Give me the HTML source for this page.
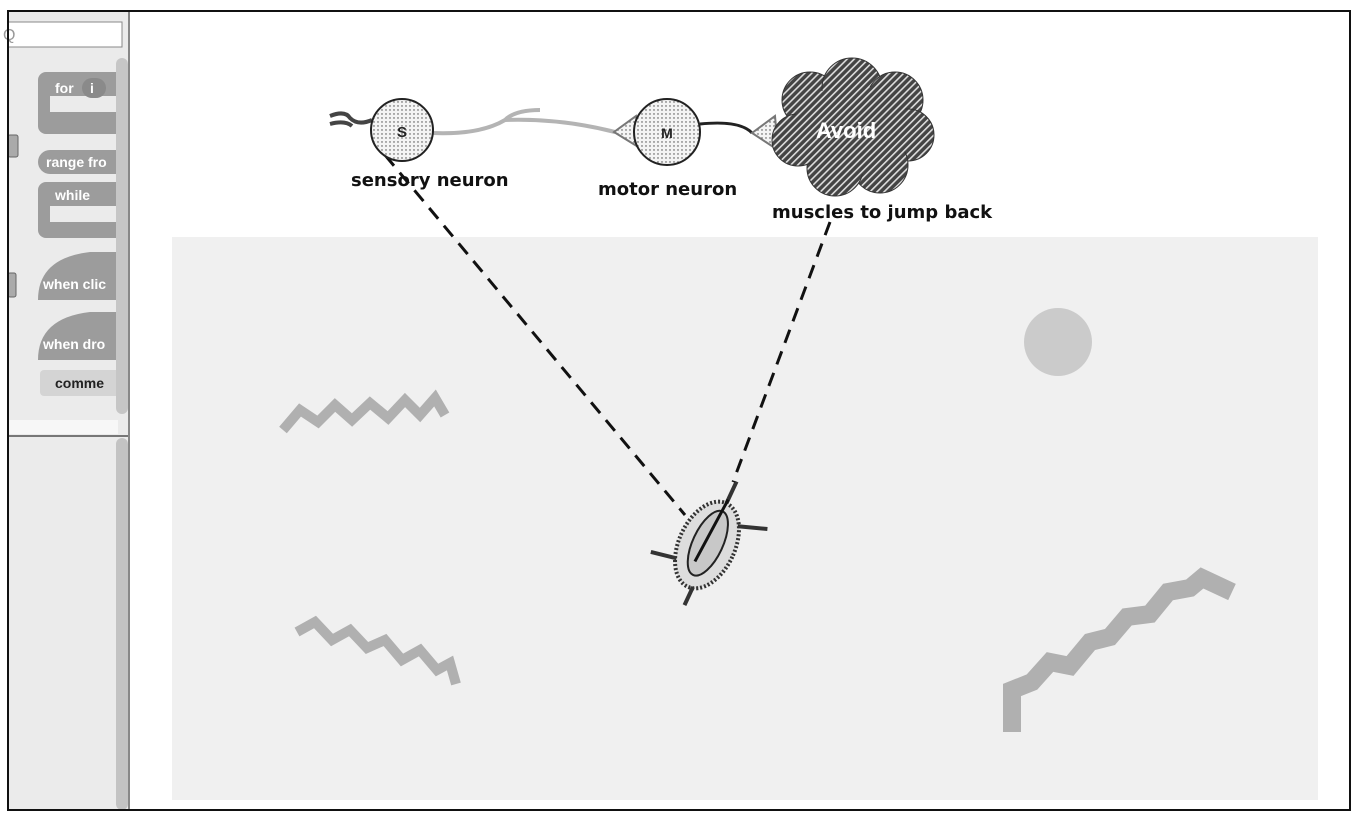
<!DOCTYPE html>
<html><head><meta charset="utf-8"><style>
html,body{margin:0;padding:0;background:#fff;width:1360px;height:822px;overflow:hidden}
svg{display:block;font-family:"Liberation Sans","DejaVu Sans",sans-serif}
</style></head><body>
<svg width="1360" height="822" viewBox="0 0 1360 822">
<defs>
<pattern id="dots" width="4" height="4" patternUnits="userSpaceOnUse"><rect width="4" height="4" fill="#f4f4f4"/><circle cx="2" cy="2" r="0.7" fill="#444"/></pattern>
<pattern id="hatch" width="5" height="5" patternUnits="userSpaceOnUse" patternTransform="rotate(45)"><rect width="5" height="5" fill="#444"/><rect width="1.6" height="5" fill="#ddd"/></pattern>
</defs>
<rect x="0" y="0" width="1360" height="822" fill="#fff"/>
<g>
<rect x="8" y="12" width="122" height="798" fill="#ebebeb"/>
<rect x="8" y="22" width="114" height="25" fill="#fff" stroke="#888"/>
<text x="3" y="40" font-size="16" fill="#999">Q</text>
<rect x="8" y="420" width="110" height="14" fill="#f7f7f7"/>
<line x1="8" y1="436" x2="130" y2="436" stroke="#777" stroke-width="2"/>
<line x1="129" y1="12" x2="129" y2="810" stroke="#888" stroke-width="2"/>
<g fill="#9c9c9c">
<rect x="38" y="72" width="90" height="62" rx="8"/>
<rect x="38" y="150" width="90" height="24" rx="12"/>
<rect x="38" y="182" width="90" height="56" rx="8"/>
<path d="M38 300 Q38 258 90 252 L128 252 L128 300 Z"/>
<path d="M38 360 Q38 318 90 312 L128 312 L128 360 Z"/>
</g>
<rect x="50" y="96" width="78" height="16" fill="#ebebeb"/>
<rect x="50" y="206" width="78" height="16" fill="#ebebeb"/>
<rect x="40" y="370" width="88" height="26" rx="4" fill="#d4d4d4"/>
<rect x="82" y="78" width="24" height="20" rx="10" fill="#8a8a8a"/>
<rect x="8" y="135" width="10" height="22" rx="2" fill="#aaa" stroke="#666"/>
<rect x="8" y="273" width="8" height="24" rx="2" fill="#aaa" stroke="#666"/>
<g font-size="14" font-weight="bold" fill="#fff">
<text x="55" y="93">for</text><text x="90" y="93">i</text>
<text x="46" y="167">range fro</text>
<text x="55" y="200">while</text>
<text x="43" y="289">when clic</text>
<text x="43" y="349">when dro</text>
</g>
<text x="55" y="388" font-size="14" font-weight="bold" fill="#222">comme</text>
<rect x="116" y="58" width="12" height="356" rx="6" fill="#c6c6c6"/>
<rect x="116" y="438" width="12" height="372" rx="6" fill="#c3c3c3"/>
</g>
<rect x="172" y="237" width="1146" height="563" fill="#f0f0f0"/>
<g fill="none" stroke="#b0b0b0" stroke-linejoin="miter">
<polyline stroke-width="10" points="283,430 300,410 318,422 335,405 352,420 370,403 388,418 405,400 420,415 435,398 445,415"/>
<polyline stroke-width="10" points="297,632 315,622 332,640 350,630 367,648 385,640 402,660 420,650 437,670 450,663 456,684"/>
<polyline stroke-width="18" points="1012,732 1012,690 1032,682 1050,662 1070,666 1090,642 1110,637 1127,617 1150,614 1168,592 1190,588 1202,578 1232,592"/>
</g>
<circle cx="1058" cy="342" r="34" fill="#cbcbcb"/>
<g transform="translate(707,545) rotate(25)">
<ellipse cx="0" cy="0" rx="28" ry="46" fill="#ddd" stroke="#333" stroke-width="4" stroke-dasharray="2 2"/>
<ellipse cx="0" cy="-2" rx="15" ry="35" fill="#c8c8c8" stroke="#222" stroke-width="2"/>
<line x1="0" y1="-46" x2="0" y2="-70" stroke="#333" stroke-width="4"/>
<path d="M20 -30 L48 -40" stroke="#333" stroke-width="4"/>
<path d="M-22 25 L-48 30" stroke="#333" stroke-width="4"/>
<path d="M5 44 L5 64" stroke="#333" stroke-width="4"/>
<line x1="0" y1="-50" x2="-4" y2="20" stroke="#111" stroke-width="3"/>
</g>
<line x1="385" y1="155" x2="685" y2="515" stroke="#111" stroke-width="3" stroke-dasharray="14 9"/>
<line x1="830" y1="222" x2="733" y2="482" stroke="#111" stroke-width="3" stroke-dasharray="14 9"/>
<path d="M330 116 Q345 110 350 118 Q358 126 372 120 M330 124 Q345 120 352 126" fill="none" stroke="#444" stroke-width="4"/>
<path d="M432 133 Q480 135 505 120 Q515 110 540 110 M505 120 Q560 118 615 132" fill="none" stroke="#b4b4b4" stroke-width="4"/>
<circle cx="402" cy="130" r="31" fill="url(#dots)" stroke="#222" stroke-width="2"/>
<text x="402" y="137" font-size="15" font-weight="bold" text-anchor="middle" fill="#222">S</text>
<path d="M614 132 L636 116 L640 148 Z" fill="url(#dots)" stroke="#777" stroke-width="2"/>
<circle cx="667" cy="132" r="33" fill="url(#dots)" stroke="#222" stroke-width="2"/>
<text x="667" y="138" font-size="14" font-weight="bold" text-anchor="middle" fill="#222">M</text>
<path d="M700 124 Q740 120 752 133" fill="none" stroke="#222" stroke-width="3"/>
<path d="M752 133 L775 116 L778 150 Z" fill="url(#dots)" stroke="#777" stroke-width="2"/>
<g fill="url(#hatch)" stroke="#333" stroke-width="1">
<circle cx="810" cy="100" r="28"/><circle cx="852" cy="88" r="30"/><circle cx="895" cy="100" r="28"/>
<circle cx="908" cy="135" r="26"/><circle cx="880" cy="165" r="28"/><circle cx="835" cy="168" r="28"/>
<circle cx="798" cy="140" r="26"/><ellipse cx="852" cy="130" rx="60" ry="45" stroke="none"/>
</g>
<text x="846" y="138" font-size="22" font-weight="bold" text-anchor="middle" fill="#fff">Avoid</text>
<g font-size="18" font-weight="bold" fill="#111" font-family="'DejaVu Sans',sans-serif">
<text x="351" y="186">sensory neuron</text>
<text x="598" y="195">motor neuron</text>
<text x="772" y="218">muscles to jump back</text>
</g>
<rect x="8" y="11" width="1342" height="799" fill="none" stroke="#111" stroke-width="2"/>
</svg>
</body></html>
